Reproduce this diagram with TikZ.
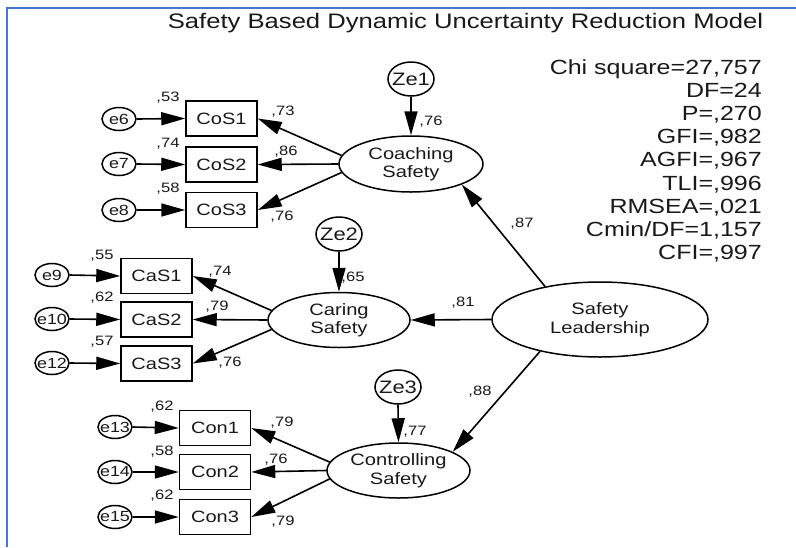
\documentclass[tikz,border=0pt]{standalone}
\usepackage{fontspec}
\setmainfont{Liberation Sans}[FakeStretch=1.22]
\usetikzlibrary{arrows.meta,shapes.geometric}
\definecolor{frameblue}{RGB}{72,118,206}
\definecolor{ink}{RGB}{25,25,25}
\newcommand{\fs}[2]{\fontsize{#1}{#2}\selectfont}
\newcommand{\nw}[1]{\makebox[0pt]{#1}}

\begin{document}
\begin{tikzpicture}[x=1pt,y=-1pt,
  every node/.style={text=ink},
  latent/.style={ellipse, draw, line width=1.5pt, inner sep=0pt, align=center, font=\fs{16.5}{18.5}},
  dist/.style={ellipse, draw, line width=1.5pt, inner sep=0pt, minimum width=46pt, minimum height=34pt, font=\fs{18}{20}},
  errv/.style={ellipse, draw, line width=1.5pt, inner sep=0pt, minimum width=34pt, minimum height=23pt, font=\fs{14.7}{16}},
  obs/.style={rectangle, draw, line width=1.5pt, inner sep=0pt, minimum width=71pt, minimum height=35pt, font=\fs{16.4}{18}},
  coef/.style={inner sep=0pt, font=\fs{13.6}{15}},
  path/.style={line width=1.6pt, -{Triangle[length=24pt,width=13pt]}},
  stat/.style={anchor=base east, inner sep=0pt, font=\fs{20.5}{23}}
]
\useasboundingbox (0,0) rectangle (796,547);
\fill[white] (0,0) rectangle (796,547);

% frame
\draw[frameblue, line width=2.2pt] (7,547) -- (7,8) -- (796,8);

% title
\node[anchor=base, inner sep=0pt, font=\fs{21}{24}] (title) at (465.5,28) {Safety Based Dynamic Uncertainty Reduction Model};

% fit statistics
\foreach \t [count=\i] in {{Chi square=27,757},{DF=24},{P=,270},{GFI=,982},{AGFI=,967},{TLI=,996},{RMSEA=,021},{Cmin/DF=1,157},{CFI=,997}}
  \node[stat] (fit\i) at (762,{74+23.2*(\i-1)}) {\t};

% latent variables
\node[latent, minimum width=144pt, minimum height=56pt] (coach) at (411,164) {Coaching\\Safety};
\node[latent, minimum width=142pt, minimum height=55pt] (caring) at (339,320) {Caring\\Safety};
\node[latent, minimum width=143pt, minimum height=55pt] (control) at (398.5,470.5) {Controlling\\Safety};
\node[latent, minimum width=216pt, minimum height=75pt] (leader) at (600,319.5) {Safety\\Leadership};

% disturbances
\node[dist] (ze1) at (411,79) {\nw{Ze1}};
\node[dist] (ze2) at (339,234) {\nw{Ze2}};
\node[dist] (ze3) at (398,387) {\nw{Ze3}};

% indicators
\node[obs] (cos1) at (221.5,118.5) {CoS1};
\node[obs] (cos2) at (221.5,164.5) {CoS2};
\node[obs] (cos3) at (221.5,210) {CoS3};
\node[obs] (cas1) at (156.5,276) {CaS1};
\node[obs] (cas2) at (156.5,319.5) {CaS2};
\node[obs] (cas3) at (156.5,363.5) {CaS3};
\node[obs] (con1) at (215,428) {Con1};
\node[obs] (con2) at (215,472) {Con2};
\node[obs] (con3) at (215,517) {Con3};

% error terms
\node[errv] (e6) at (119,119) {\nw{e6}};
\node[errv] (e7) at (119,164) {\nw{e7}};
\node[errv] (e8) at (119,210) {\nw{e8}};
\node[errv] (e9) at (52,275) {\nw{e9}};
\node[errv] (e10) at (52,319) {\nw{e10}};
\node[errv] (e12) at (52,363) {\nw{e12}};
\node[errv] (e13) at (115,427) {\nw{e13}};
\node[errv] (e14) at (115,472) {\nw{e14}};
\node[errv] (e15) at (115,517) {\nw{e15}};

% coefficients
\node[coef] (r53) at (168,98) {,53};
\node[coef] (r74a) at (168,144) {,74};
\node[coef] (r58a) at (168,189) {,58};
\node[coef] (l73) at (283,112) {,73};
\node[coef] (l86) at (286,152) {,86};
\node[coef] (l76a) at (282,217) {,76};
\node[coef] (r76z) at (431,122) {,76};
\node[coef] (r55) at (102,256) {,55};
\node[coef] (r62a) at (102,298) {,62};
\node[coef] (r57) at (102,342) {,57};
\node[coef] (l74) at (220,272) {,74};
\node[coef] (l79a) at (217,307) {,79};
\node[coef] (l76b) at (230,363) {,76};
\node[coef] (r65) at (353,278) {,65};
\node[coef] (g81) at (463,303) {,81};
\node[coef] (g87) at (522,224) {,87};
\node[coef] (g88) at (480,392) {,88};
\node[coef] (r62b) at (162,407) {,62};
\node[coef] (r58b) at (162,452) {,58};
\node[coef] (r62c) at (162,496) {,62};
\node[coef] (l79b) at (282,423) {,79};
\node[coef] (l76c) at (276,460) {,76};
\node[coef] (l79c) at (283,522) {,79};
\node[coef] (r77) at (415,432) {,77};

% structural paths
\draw[path] (leader.149) -- (coach.338);
\draw[path] (leader.west) -- (caring.east);
\draw[path] (leader.208) -- (control.19);
\draw[path] (ze1.south) -- (coach.north);
\draw[path] (ze2.south) -- (caring.north);
\draw[path] (ze3.south) -- (control.north);

% measurement paths
\draw[path] (coach.173) -- (cos1.east);
\draw[path] (coach.west) -- (cos2.east);
\draw[path] (coach.187) -- (cos3.east);
\draw[path] (caring.172) -- (cas1.east);
\draw[path] (caring.west) -- (cas2.east);
\draw[path] (caring.188) -- (cas3.east);
\draw[path] (control.173) -- (con1.east);
\draw[path] (control.west) -- (con2.east);
\draw[path] (control.187) -- (con3.east);

% error paths
\foreach \e/\o in {e6/cos1,e7/cos2,e8/cos3,e9/cas1,e10/cas2,e12/cas3,e13/con1,e14/con2,e15/con3}
  \draw[path] (\e.east) -- (\o.west);
\end{tikzpicture}
\end{document}
